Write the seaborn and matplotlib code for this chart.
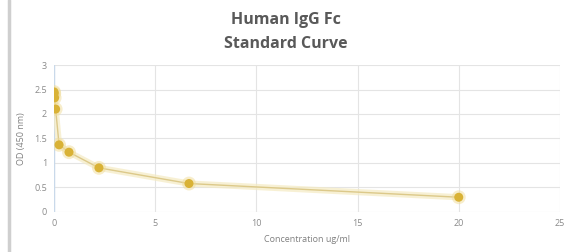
import matplotlib
matplotlib.use("Agg")
import matplotlib.pyplot as plt
import seaborn as sns
import pandas as pd

# standard curve, 3-fold dilutions
concentration = [20.0, 6.67, 2.22, 0.74, 0.25, 0.08, 0.03, 0.01, 0.0]
od_450 = [0.30, 0.58, 0.90, 1.22, 1.37, 2.10, 2.33, 2.42, 2.45]
x_ticks = [0, 5, 10, 15, 20, 25]
y_ticks = [0, 0.5, 1, 1.5, 2, 2.5, 3]

df = pd.DataFrame({"conc": concentration, "od": od_450})

sns.set_style("white")
plt.rcParams["font.family"] = ["Open Sans", "DejaVu Sans"]

fig = plt.figure(figsize=(5.71, 2.52), dpi=100)
ax = fig.add_axes([0.0946, 0.159, 0.886, 0.583])

# soft halo under the curve, then the line itself
sns.lineplot(data=df, x="conc", y="od", ax=ax, color="#f5ebc2", lw=4.5,
             alpha=0.7, sort=True, zorder=2)
sns.lineplot(data=df, x="conc", y="od", ax=ax, color="#dcc98a", lw=1.0,
             sort=True, zorder=3)
sns.scatterplot(data=df, x="conc", y="od", ax=ax, color="#f0dc98", s=100,
                alpha=0.5, edgecolor="none", zorder=4)
sns.scatterplot(data=df, x="conc", y="od", ax=ax, color="#d9b236", s=42,
                edgecolor="none", zorder=5)

ax.set_xlim(0, 25)
ax.set_ylim(0, 3)
ax.set_xticks(x_ticks)
ax.set_yticks(y_ticks)
ax.set_xticklabels([str(t) for t in x_ticks])
ax.set_yticklabels(["0", "0.5", "1", "1.5", "2", "2.5", "3"])
ax.grid(True, color="#e4e4e4", lw=0.8)
ax.set_axisbelow(True)
for s in ax.spines.values():
    s.set_visible(False)
ax.axvline(0, color="#c9d9ea", lw=1.0, zorder=1)
ax.tick_params(length=0, labelsize=6.5, colors="#8a8a8a", pad=5)

ax.set_xlabel("Concentration ug/ml", fontsize=6.5, color="#808080", labelpad=5)
ax.set_ylabel("OD (450 nm)", fontsize=6.5, color="#808080", labelpad=6)

fig.text(0.5, 0.92, "Human IgG Fc", ha="center", va="center",
         fontsize=11.5, fontweight="bold", color="#595959")
fig.text(0.5, 0.825, "Standard Curve", ha="center", va="center",
         fontsize=11.5, fontweight="bold", color="#595959")

# grey frame edge at the left
fig.add_artist(plt.Line2D([0.015, 0.015], [0, 1], transform=fig.transFigure,
                          color="#cfcfcf", lw=2.5))

fig.savefig("out.png", dpi=100)
